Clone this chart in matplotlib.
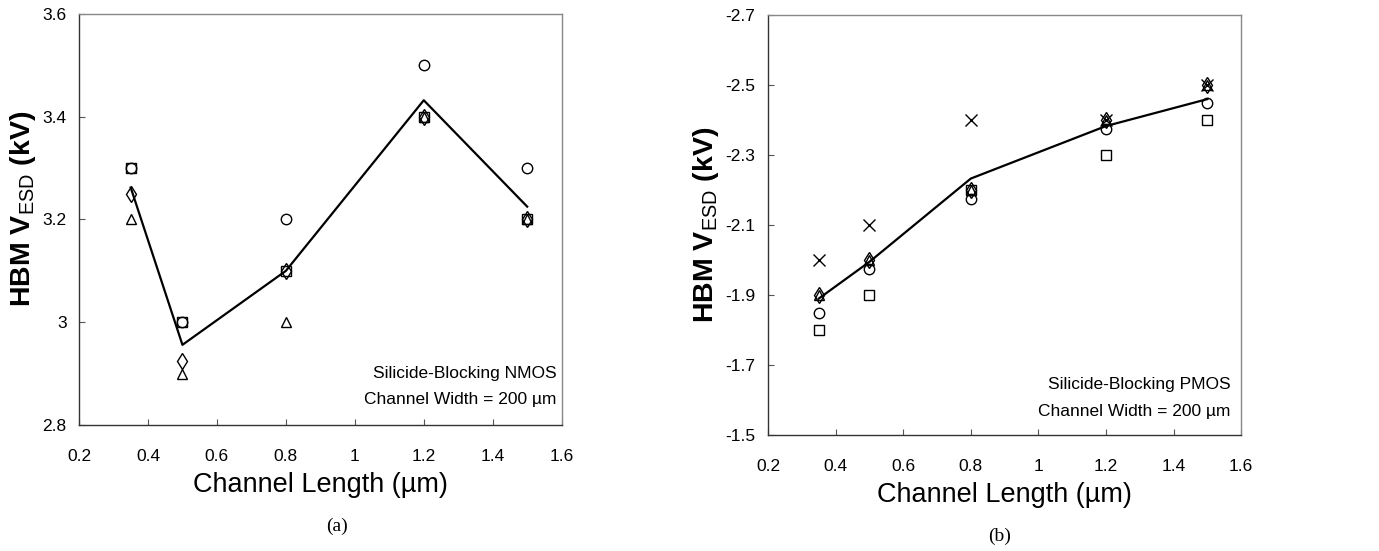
import matplotlib
matplotlib.use("Agg")
import matplotlib.pyplot as plt
from matplotlib.ticker import FuncFormatter

plt.rcParams["font.family"] = ["Liberation Sans", "DejaVu Sans"]
plt.rcParams["mathtext.fontset"] = "custom"
plt.rcParams["mathtext.rm"] = "Liberation Sans"
plt.rcParams["mathtext.bf"] = "Liberation Sans:bold"

# channel lengths (um)
lengths = [0.35, 0.5, 0.8, 1.2, 1.5]

# (a) silicide-blocking NMOS, HBM VESD (kV)
nmos_square = [3.3, 3.0, 3.1, 3.4, 3.2]
nmos_circle = [3.3, 3.0, 3.2, 3.5, 3.3]
nmos_diamond = [3.25, 2.925, 3.1, 3.4, 3.2]
nmos_triangle = [3.2, 2.9, 3.0, 3.4, 3.2]
nmos_avg = [3.262, 2.956, 3.10, 3.432, 3.225]

# (b) silicide-blocking PMOS, HBM VESD (kV)
pmos_cross = [-2.0, -2.1, -2.4, -2.4, -2.5]
pmos_square = [-1.8, -1.9, -2.2, -2.3, -2.4]
pmos_circle = [-1.85, -1.975, -2.175, -2.375, -2.45]
pmos_diamond = [-1.9, -2.0, -2.2, -2.4, -2.5]
pmos_triangle = [-1.9, -2.0, -2.2, -2.4, -2.5]
pmos_avg = [-1.89, -1.995, -2.233, -2.383, -2.46]

x_ticks = [0.2, 0.4, 0.6, 0.8, 1.0, 1.2, 1.4, 1.6]
nmos_ticks = [2.8, 3.0, 3.2, 3.4, 3.6]
pmos_ticks = [-1.5, -1.7, -1.9, -2.1, -2.3, -2.5, -2.7]

fig = plt.figure(figsize=(13.79, 5.51), dpi=100)
ax1 = fig.add_axes([0.0573, 0.2287, 0.350, 0.746])
ax2 = fig.add_axes([0.557, 0.2105, 0.343, 0.762])

mk = dict(linestyle="none", markerfacecolor="none", markeredgecolor="black",
          markeredgewidth=1.0, markersize=7.5)

def style_axes(ax):
    for side in ["top", "right"]:
        ax.spines[side].set_color("#888888")
    for side in ["left", "bottom"]:
        ax.spines[side].set_color("#333333")
    for s in ax.spines.values():
        s.set_linewidth(1.0)
    ax.tick_params(direction="in", length=4, width=0.8, color="#555555",
                   labelsize=12.5, top=False, right=False)
    ax.tick_params(axis="x", pad=17)
    ax.tick_params(axis="y", pad=9)
    ax.set_xlim(0.2, 1.6)
    ax.set_xticks(x_ticks)
    ax.xaxis.set_major_formatter(FuncFormatter(lambda v, p: "%g" % round(v, 2)))
    ax.yaxis.set_major_formatter(FuncFormatter(lambda v, p: "%g" % round(v, 2)))
    ax.set_xlabel("Channel Length (\u00b5m)", fontsize=19.5, labelpad=6)
    ax.set_ylabel("HBM V$_{\\mathrm{ESD}}$ (kV)", fontsize=20.5,
                  fontweight="bold", labelpad=3)

# (a)
ax1.plot(lengths, nmos_avg, color="black", linewidth=1.6)
ax1.plot(lengths, nmos_square, marker="s", **dict(mk, markersize=7))
ax1.plot(lengths, nmos_circle, marker="o", **mk)
ax1.plot(lengths, nmos_diamond, marker="d", **dict(mk, markersize=8.5))
ax1.plot(lengths, nmos_triangle, marker="^", **mk)
ax1.set_ylim(2.8, 3.6)
ax1.set_yticks(nmos_ticks)
style_axes(ax1)
ax1.yaxis.label.set_y(0.526)
ax1.text(0.99, 0.125, "Silicide-Blocking NMOS", transform=ax1.transAxes,
         ha="right", va="center", fontsize=12.5)
ax1.text(0.99, 0.062, "Channel Width = 200 \u00b5m", transform=ax1.transAxes,
         ha="right", va="center", fontsize=12.5)
fig.text(0.2445, 0.044, "(a)", ha="center", va="center", fontsize=14,
         family="Liberation Serif")

# (b)
ax2.plot(lengths, pmos_avg, color="black", linewidth=1.6)
ax2.plot(lengths, pmos_cross, marker="x", **dict(mk, markersize=8.5))
ax2.plot(lengths, pmos_square, marker="s", **dict(mk, markersize=7))
ax2.plot(lengths, pmos_circle, marker="o", **mk)
ax2.plot(lengths, pmos_diamond, marker="d", **dict(mk, markersize=8.5))
ax2.plot(lengths, pmos_triangle, marker="^", **mk)
ax2.set_ylim(-1.5, -2.7)
ax2.set_yticks(pmos_ticks)
style_axes(ax2)
ax2.text(0.977, 0.12, "Silicide-Blocking PMOS", transform=ax2.transAxes,
         ha="right", va="center", fontsize=12.5)
ax2.text(0.977, 0.055, "Channel Width = 200 \u00b5m", transform=ax2.transAxes,
         ha="right", va="center", fontsize=12.5)
fig.text(0.725, 0.026, "(b)", ha="center", va="center", fontsize=14,
         family="Liberation Serif")

fig.savefig("out.png", dpi=100)
